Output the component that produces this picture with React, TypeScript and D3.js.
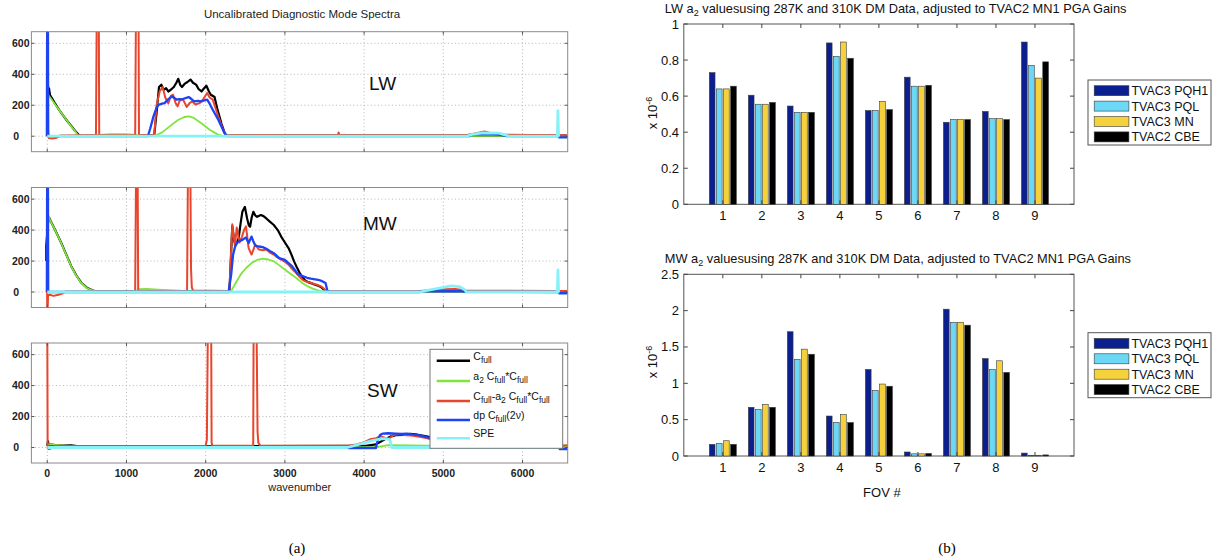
import * as d3 from 'd3';
import React from 'react';

type Pt = [number, number];

// ---------- left: spectra (wavenumber, counts) ----------
const lwBlack: Pt[] = [[0, 250], [8, 340], [14, 280], [22, 310], [35, 265], [60, 245], [100, 210], [150, 170], [200, 135], [250, 100], [300, 68], [350, 35], [400, 8], [430, 3], [700, 4], [1100, 5], [1350, 5], [1380, 150], [1411, 318], [1440, 333], [1470, 300], [1500, 310], [1528, 289], [1560, 300], [1598, 318], [1630, 345], [1654, 371], [1680, 330], [1701, 318], [1738, 340], [1770, 350], [1808, 366], [1840, 345], [1879, 333], [1910, 305], [1948, 289], [1980, 310], [2009, 326], [2040, 290], [2065, 268], [2112, 253], [2150, 170], [2200, 80], [2240, 20], [2265, 4], [6560, 4]];
const lwGreen: Pt[] = [[-8, 320], [5, 300], [15, 265], [40, 248], [100, 205], [150, 170], [200, 135], [250, 100], [300, 65], [350, 33], [390, 6], [420, 2], [640, 3], [700, 10], [800, 14], [950, 13], [1100, 10], [1200, 5], [1360, 2], [1450, 25], [1550, 65], [1650, 105], [1730, 124], [1790, 128], [1850, 118], [1950, 82], [2050, 42], [2150, 12], [2210, 2], [6560, 2]];
const lwRed: Pt[] = [[0, 20], [5, 100], [12, 30], [20, -12], [60, -15], [120, -10], [160, 4], [400, 6], [615, 6], [626, 900], [650, 900], [656, 6], [1110, 6], [1121, 900], [1152, 900], [1158, 6], [1350, 6], [1380, 200], [1420, 290], [1457, 318], [1490, 250], [1528, 212], [1560, 260], [1589, 268], [1620, 215], [1645, 193], [1680, 240], [1715, 236], [1761, 189], [1800, 215], [1831, 225], [1870, 205], [1925, 214], [1970, 240], [2019, 279], [2050, 250], [2089, 236], [2159, 128], [2229, 30], [2262, 8], [3000, 6], [3670, 6], [3678, 24], [3690, 6], [5300, 8], [5400, 18], [5520, 30], [5600, 20], [5750, 10], [6440, 6], [6560, 6]];
const lwBlue: Pt[] = [[-5, 0], [0, 900], [8, 900], [12, 0], [1270, 0], [1300, 50], [1341, 128], [1380, 185], [1411, 204], [1450, 210], [1481, 214], [1530, 240], [1575, 257], [1610, 245], [1636, 236], [1665, 240], [1692, 236], [1740, 245], [1785, 253], [1820, 240], [1855, 225], [1900, 228], [1948, 225], [1985, 232], [2019, 236], [2050, 210], [2089, 171], [2159, 107], [2229, 30], [2262, 0], [5330, 0], [5340, 10], [5420, 12], [5550, 14], [5700, 10], [5790, 2], [5800, 0], [6450, 0], [6460, -8], [6570, -8]];
const lwCyan: Pt[] = [[0, 0], [5300, 0], [5360, 12], [5500, 22], [5700, 20], [5800, 5], [5830, 0], [6440, 0], [6447, 165], [6455, 0], [6465, 0]];

const mwBlack: Pt[] = [[-12, 200], [-12, 300], [15, 480], [24, 480], [40, 462], [100, 400], [177, 317], [250, 230], [303, 167], [370, 105], [429, 60], [500, 28], [577, 10], [620, 4], [2300, 4], [2336, 426], [2360, 330], [2383, 305], [2416, 347], [2440, 440], [2463, 518], [2495, 550], [2523, 475], [2545, 430], [2561, 422], [2580, 480], [2602, 518], [2625, 495], [2649, 486], [2696, 497], [2730, 490], [2766, 475], [2810, 455], [2860, 433], [2910, 400], [2953, 358], [3000, 320], [3046, 284], [3080, 245], [3116, 198], [3150, 160], [3186, 124], [3220, 95], [3256, 75], [3300, 62], [3350, 54], [3390, 45], [3430, 39], [3460, 30], [3490, 17], [3510, 5], [6560, 4]];
const mwGreen: Pt[] = [[-5, 560], [10, 500], [30, 470], [100, 400], [177, 315], [250, 228], [303, 165], [370, 103], [429, 58], [500, 26], [577, 9], [640, 3], [1130, 4], [1150, 18], [1250, 20], [1400, 16], [1600, 10], [1780, 5], [2000, 3], [2320, 4], [2380, 60], [2440, 112], [2510, 155], [2579, 187], [2650, 207], [2719, 215], [2790, 210], [2860, 198], [2930, 172], [2999, 145], [3070, 118], [3140, 92], [3210, 62], [3280, 39], [3350, 22], [3420, 11], [3490, 2], [6560, 2]];
const mwRed: Pt[] = [[-2, 0], [0, -95], [5, -120], [10, -20], [30, -18], [80, -25], [140, -18], [200, -8], [230, 4], [1110, 6], [1123, 900], [1140, 900], [1148, 6], [1765, 6], [1778, 900], [1805, 900], [1815, 150], [1825, 30], [1840, 10], [2300, 6], [2336, 437], [2369, 297], [2392, 416], [2429, 320], [2460, 360], [2486, 403], [2509, 424], [2542, 284], [2579, 242], [2626, 306], [2673, 274], [2720, 270], [2766, 274], [2810, 255], [2860, 242], [2900, 225], [2953, 210], [3000, 195], [3046, 177], [3090, 150], [3140, 124], [3190, 95], [3233, 75], [3280, 65], [3327, 60], [3380, 50], [3420, 45], [3460, 35], [3490, 23], [3523, 6], [4700, 6], [4800, 10], [5000, 18], [5150, 20], [5280, 10], [6440, 6], [6560, 6]];
const mwBlue: Pt[] = [[-5, 0], [0, 900], [8, 900], [12, 0], [2289, 0], [2322, 112], [2346, 241], [2370, 290], [2392, 316], [2430, 330], [2463, 337], [2509, 352], [2542, 316], [2579, 358], [2600, 330], [2626, 300], [2673, 294], [2720, 290], [2766, 279], [2810, 265], [2860, 251], [2929, 219], [2999, 208], [3050, 185], [3093, 165], [3130, 140], [3163, 116], [3233, 101], [3280, 92], [3327, 86], [3380, 82], [3420, 79], [3470, 70], [3513, 58], [3536, 9], [3550, 0], [4700, 0], [4720, 4], [5200, 6], [5270, 2], [6450, 0], [6460, -8], [6570, -8]];
const mwCyan: Pt[] = [[0, 0], [4700, 0], [4800, 10], [4950, 25], [5100, 39], [5200, 35], [5270, 15], [5290, 0], [6440, 0], [6447, 143], [6455, 0], [6465, 0]];

const swBlack: Pt[] = [[0, 10], [10, 40], [15, 15], [30, 20], [100, 15], [200, 12], [300, 14], [400, 8], [2000, 8], [4000, 10], [4150, 20], [4250, 50], [4330, 70], [4400, 80], [4495, 82], [4580, 88], [4650, 85], [4750, 75], [4850, 65], [5000, 50], [5500, 20], [6000, 8], [6570, 8]];
const swGreen: Pt[] = [[0, 5], [15, 22], [50, 20], [150, 15], [300, 8], [500, 4], [4150, 3], [4250, 10], [4307, 15], [4600, 13], [5000, 10], [6570, 5]];
const swRed: Pt[] = [[-3, 900], [0, 900], [5, 30], [10, -8], [25, -10], [50, -5], [100, 12], [300, 10], [1000, 10], [1500, 10], [2000, 12], [2015, 50], [2030, 900], [2068, 900], [2075, 30], [2085, 12], [2600, 12], [2606, 900], [2640, 900], [2655, 100], [2665, 30], [2690, 12], [3800, 12], [3900, 20], [4000, 35], [4074, 53], [4150, 60], [4201, 71], [4242, 67], [4306, 53], [4369, 80], [4453, 86], [4520, 80], [4600, 78], [4700, 70], [4800, 60], [4900, 40], [5000, 25], [5200, 15], [6000, 10], [6400, 10], [6570, 15]];
const swBlue: Pt[] = [[0, 0], [3790, 0], [3800, -3], [4150, -3], [4168, 40], [4200, 80], [4237, 90], [4300, 92], [4400, 90], [4470, 88], [4542, 90], [4600, 85], [4688, 80], [4800, 65], [5000, 45], [5200, 30], [5500, 15], [6000, 5], [6400, 2], [6460, -2], [6470, -10], [6570, -10]];
const swCyan: Pt[] = [[0, 0], [3790, 0], [3900, 15], [4000, 30], [4100, 45], [4200, 55], [4284, 58], [4327, 50], [4348, 0], [6440, 0], [6447, 140], [6455, 0], [6465, 0]];

const specTicksX = [0, 1000, 2000, 3000, 4000, 5000, 6000];
const specTicksY = [0, 200, 400, 600];

// ---------- right: a2 values per FOV (x 10^-6) ----------
const fovs = [1, 2, 3, 4, 5, 6, 7, 8, 9];
const barSeries = ['TVAC3 PQH1', 'TVAC3 PQL', 'TVAC3 MN', 'TVAC2 CBE'];
const lwPQH1 = [0.73, 0.605, 0.545, 0.895, 0.52, 0.705, 0.455, 0.515, 0.9];
const lwPQL = [0.64, 0.555, 0.51, 0.82, 0.52, 0.655, 0.47, 0.475, 0.77];
const lwMN = [0.64, 0.555, 0.51, 0.9, 0.57, 0.655, 0.47, 0.475, 0.7];
const lwCBE = [0.655, 0.565, 0.51, 0.81, 0.525, 0.66, 0.47, 0.47, 0.79];
const mwPQH1 = [0.16, 0.67, 1.71, 0.55, 1.19, 0.055, 2.02, 1.34, 0.04];
const mwPQL = [0.17, 0.64, 1.33, 0.46, 0.9, 0.03, 1.84, 1.19, 0.01];
const mwMN = [0.21, 0.71, 1.47, 0.57, 0.99, 0.03, 1.84, 1.31, 0.01];
const mwCBE = [0.16, 0.67, 1.4, 0.46, 0.96, 0.035, 1.8, 1.15, 0.015];
const lwTicksY = [0, 0.2, 0.4, 0.6, 0.8, 1];
const mwTicksY = [0, 0.5, 1, 1.5, 2, 2.5];

const SPEC = { black: '#000000', green: '#7fe53c', red: '#e8452c', blue: '#1d43f2', cyan: '#85f2f7' };
const BARC = ['#0b1f8f', '#6cd8f6', '#f5d13c', '#000000'];
const FONT = '"Liberation Sans", Arial, Helvetica, sans-serif';
const SERIF = '"Liberation Serif", "Times New Roman", serif';

const specX = d3.scaleLinear([-200, 6570], [31.4, 567.7]);
const PH = 120;

// text with subscripts: each part is [text, shift] where shift > 0 means subscript
type Part = [string, number];
function rich(parts: Part[], base: number, small: number) {
  let prev = 0;
  return parts.map(([t, s], i) => {
    const dy = s - prev;
    prev = s;
    return (
      <tspan key={i} dy={dy || undefined} fontSize={s ? small : base}>{t}</tspan>
    );
  });
}

function SpectrumPanel({ id, top, label, labelX, labelY, series, xLabels }: any) {
  const y = d3.scaleLinear([-100, 675], [top + PH, top]);
  const line = d3.line<Pt>(d => specX(d[0]), d => y(d[1]));
  const x0 = specX.range()[0], x1 = specX.range()[1];
  return (
    <g>
      <defs>
        <clipPath id={id}>
          <rect x={x0} y={top} width={x1 - x0} height={PH} />
        </clipPath>
      </defs>
      <g stroke="#b5b5b5" strokeWidth={1} strokeDasharray="1,2.5">
        {specTicksX.map(t => <line key={'gx' + t} x1={specX(t)} x2={specX(t)} y1={top} y2={top + PH} />)}
        {specTicksY.map(t => <line key={'gy' + t} x1={x0} x2={x1} y1={y(t)} y2={y(t)} />)}
      </g>
      <g clipPath={`url(#${id})`} fill="none" strokeLinejoin="round">
        {series.map((s: any, i: number) => (
          <path key={i} d={line(s.data) || ''} stroke={s.color} strokeWidth={s.w} />
        ))}
      </g>
      <rect x={x0} y={top} width={x1 - x0} height={PH} fill="none" stroke="#8a8a8a" strokeWidth={1} />
      <g stroke="#555" strokeWidth={1}>
        {specTicksX.map(t => (
          <g key={'tx' + t}>
            <line x1={specX(t)} x2={specX(t)} y1={top + PH} y2={top + PH - 3} />
            <line x1={specX(t)} x2={specX(t)} y1={top} y2={top + 3} />
          </g>
        ))}
        {specTicksY.map(t => (
          <g key={'ty' + t}>
            <line x1={x0} x2={x0 + 3} y1={y(t)} y2={y(t)} />
            <line x1={x1} x2={x1 - 3} y1={y(t)} y2={y(t)} />
          </g>
        ))}
      </g>
      <g fontFamily={FONT} fontSize={10.5} fontWeight="bold" fill="#222" textAnchor="end">
        {specTicksY.map(t => (
          <text key={'ly' + t} x={t === 0 ? 19 : 29.5} y={y(t) + 3.8}>{t}</text>
        ))}
      </g>
      {xLabels && (
        <g fontFamily={FONT} fontSize={10.5} fontWeight="bold" fill="#222" textAnchor="middle">
          {specTicksX.map(t => (
            <text key={'lx' + t} x={specX(t)} y={top + PH + 13.5}>{t}</text>
          ))}
        </g>
      )}
      <text x={labelX} y={labelY} fontFamily={FONT} fontSize={19} fill="#111">{label}</text>
    </g>
  );
}

const specLegendRows: { c: string; y: number; parts: Part[] }[] = [
  { c: SPEC.black, y: 360.7, parts: [['C', 0], ['full', 3]] },
  { c: SPEC.green, y: 381, parts: [['a', 0], ['2', 3], [' C', 0], ['full', 3], ['*C', 0], ['full', 3]] },
  { c: SPEC.red, y: 401, parts: [['C', 0], ['full', 3], ['-a', 0], ['2', 3], [' C', 0], ['full', 3], ['*C', 0], ['full', 3]] },
  { c: SPEC.blue, y: 420, parts: [['dp C', 0], ['full', 3], ['(2ν)', 0]] },
  { c: SPEC.cyan, y: 438.3, parts: [['SPE', 0]] },
];

function SpecLegend() {
  const x = 430, top = 349.3, w = 132.7, h = 99;
  return (
    <g>
      <rect x={x} y={top} width={w} height={h} fill="#fff" stroke="#777" strokeWidth={1} />
      {specLegendRows.map((r, i) => (
        <g key={i}>
          <line x1={436.7} x2={470} y1={r.y} y2={r.y} stroke={r.c} strokeWidth={2.4} />
          <text x={473.3} y={r.y - 1.2} fontFamily={FONT} fill="#111">{rich(r.parts, 10.5, 8.5)}</text>
        </g>
      ))}
    </g>
  );
}

const barX = d3.scaleLinear([0, 10], [683.8, 1074]);
const groupStep = 0.1818;
const barW = 0.1455;

function BarPanel({ top, bottom, yMax, ticks, values, band, legendTop, ylabelY, showFov }: any) {
  const y = d3.scaleLinear([0, yMax], [bottom, top]);
  const x0 = barX.range()[0], x1 = barX.range()[1];
  const titleParts: Part[] = [[band + ' a', 0], ['2', 3], [' valuesusing 287K and 310K DM Data, adjusted to TVAC2 MN1 PGA Gains', 0]];
  return (
    <g>
      <text x={664.8} y={top - 11} fontFamily={FONT} fill="#111">{rich(titleParts, 12.8, 9)}</text>
      <rect x={x0} y={top} width={x1 - x0} height={bottom - top} fill="#fff" stroke="#555" strokeWidth={1} />
      {values.map((vals: number[], s: number) => (
        <g key={s} fill={BARC[s]} stroke="#3a3a3a" strokeWidth={0.6}>
          {vals.map((v, i) => {
            const cx = fovs[i] + (s - 1.5) * groupStep;
            return (
              <rect key={i} x={barX(cx - barW / 2)} width={barX(barW) - barX(0)} y={y(v)} height={bottom - y(v)} />
            );
          })}
        </g>
      ))}
      <g stroke="#444" strokeWidth={1}>
        {fovs.map(f => (
          <g key={'t' + f}>
            <line x1={barX(f)} x2={barX(f)} y1={bottom} y2={bottom - 4} />
            <line x1={barX(f)} x2={barX(f)} y1={top} y2={top + 4} />
          </g>
        ))}
        {ticks.map((t: number) => (
          <g key={'y' + t}>
            <line x1={x0} x2={x0 + 4} y1={y(t)} y2={y(t)} />
            <line x1={x1} x2={x1 - 4} y1={y(t)} y2={y(t)} />
          </g>
        ))}
      </g>
      <g fontFamily={FONT} fontSize={13} fill="#111">
        {ticks.map((t: number) => (
          <text key={'l' + t} x={679} y={y(t) + 4.5} textAnchor="end">{String(t)}</text>
        ))}
        {fovs.map(f => (
          <text key={'f' + f} x={barX(f)} y={bottom + 15.5} textAnchor="middle">{f}</text>
        ))}
        <text transform={`translate(657,${ylabelY}) rotate(-90)`} textAnchor="middle">
          <tspan>x 10</tspan><tspan dy={-5} fontSize={9}>-6</tspan>
        </text>
        {showFov && <text x={881.9} y={bottom + 41} textAnchor="middle">FOV #</text>}
      </g>
      <g>
        <rect x={1088} y={legendTop} width={123} height={65} fill="#fff" stroke="#555" strokeWidth={1} />
        {barSeries.map((name, i) => {
          const cy = legendTop + 10.7 + i * 15.4;
          return (
            <g key={name}>
              <rect x={1094.2} y={cy - 5} width={34.7} height={10} fill={BARC[i]} stroke="#3a3a3a" strokeWidth={0.6} />
              <text x={1131.4} y={cy + 4.5} fontFamily={FONT} fontSize={12.5} fill="#111">{name}</text>
            </g>
          );
        })}
      </g>
    </g>
  );
}

export default function App() {
  const mk = (b: Pt[], g: Pt[], r: Pt[], bl: Pt[], c: Pt[]) => [
    { data: b, color: SPEC.black, w: 2.2 },
    { data: g, color: SPEC.green, w: 1.8 },
    { data: r, color: SPEC.red, w: 2 },
    { data: bl, color: SPEC.blue, w: 2.3 },
    { data: c, color: SPEC.cyan, w: 2.8 },
  ];
  return (
    <svg width={1212} height={558} style={{ position: 'absolute', left: 0, top: 0, background: '#fff' }}>
      <text x={302} y={18.3} textAnchor="middle" fontFamily={FONT} fontSize={11.5} fill="#222">
        Uncalibrated Diagnostic Mode Spectra
      </text>
      <SpectrumPanel id="clipLW" top={31.7} label="LW" labelX={369} labelY={90}
        series={mk(lwBlack, lwGreen, lwRed, lwBlue, lwCyan)} />
      <SpectrumPanel id="clipMW" top={187.5} label="MW" labelX={363} labelY={230}
        series={mk(mwBlack, mwGreen, mwRed, mwBlue, mwCyan)} />
      <SpectrumPanel id="clipSW" top={343} label="SW" labelX={367} labelY={396.7}
        series={mk(swBlack, swGreen, swRed, swBlue, swCyan)} xLabels />
      <SpecLegend />
      <text x={299.7} y={491} textAnchor="middle" fontFamily={FONT} fontSize={11} fill="#222">wavenumber</text>

      <BarPanel top={24} bottom={204.3} yMax={1} ticks={lwTicksY} values={[lwPQH1, lwPQL, lwMN, lwCBE]}
        band="LW" legendTop={80} ylabelY={113} />
      <BarPanel top={274.3} bottom={456} yMax={2.5} ticks={mwTicksY} values={[mwPQH1, mwPQL, mwMN, mwCBE]}
        band="MW" legendTop={332.7} ylabelY={362} showFov />

      <text x={297} y={553} textAnchor="middle" fontFamily={SERIF} fontSize={15} fill="#000">(a)</text>
      <text x={947} y={553} textAnchor="middle" fontFamily={SERIF} fontSize={15} fill="#000">(b)</text>
    </svg>
  );
}
